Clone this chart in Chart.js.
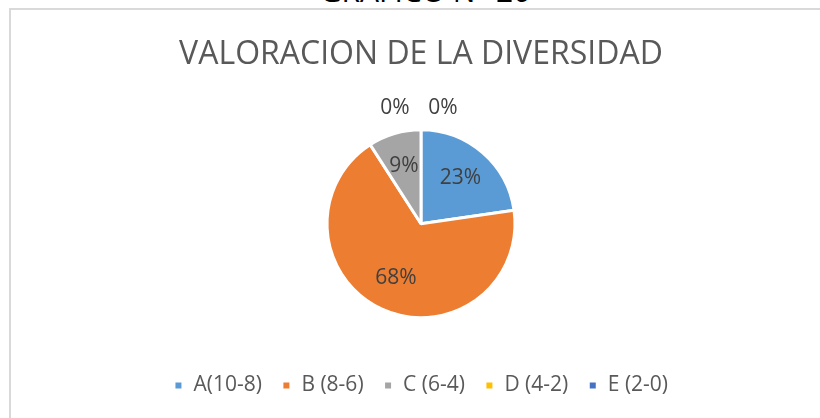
<!DOCTYPE html>
<html>
<head>
<meta charset="utf-8">
<script src="https://cdn.jsdelivr.net/npm/chart.js@4.4.0/dist/chart.umd.min.js"></script>
<style>
  html, body { margin: 0; padding: 0; background: #fff; }
  #wrap { position: relative; width: 820px; height: 418px; overflow: hidden; }
  #frame { position: absolute; left: 9px; top: 8px; width: 830px; height: 430px;
           border: 2px solid #d9d9d9; box-sizing: border-box; }
  #heading { position: absolute; left: 0; width: 850px; top: -30px; text-align: center;
             font: 30px "Open Sans", sans-serif; color: #000; }
  canvas { position: absolute; left: 0; top: 0; }
</style>
</head>
<body>
<div id="wrap">
  <div id="heading">GRAFICO N° 20</div>
  <div id="frame"></div>
  <canvas id="pie" width="820" height="418"></canvas>
</div>
<script>
// Chart data
const categories = ['A(10-8)', 'B (8-6)', 'C (6-4)', 'D (4-2)', 'E (2-0)'];
const counts = [5, 15, 2, 0, 0];
const sliceColors = ['#5B9BD5', '#ED7D31', '#A5A5A5', '#FFC000', '#4472C4'];

// Draw percentage labels on the slices
const percentLabels = {
    id: 'percentLabels',
    afterDatasetsDraw(chart) {
        const ctx = chart.ctx;
        const meta = chart.getDatasetMeta(0);
        const total = counts.reduce((a, b) => a + b, 0);
        let zeroIndex = 0;
        ctx.save();
        ctx.font = '21px "Open Sans", sans-serif';
        ctx.fillStyle = '#404040';
        ctx.textAlign = 'center';
        ctx.textBaseline = 'middle';
        meta.data.forEach((arc, i) => {
            const p = arc.getProps(['x', 'y', 'startAngle', 'endAngle', 'outerRadius'], true);
            const mid = (p.startAngle + p.endAngle) / 2;
            const pct = Math.round(counts[i] / total * 100) + '%';
            let x, y;
            if (counts[i] === 0) {
                // empty slices go outside, spread left and right
                const r = p.outerRadius + 22;
                x = p.x + Math.cos(mid) * r + (zeroIndex === 0 ? -26 : 22);
                y = p.y + Math.sin(mid) * r;
                zeroIndex++;
            } else {
                const r = p.outerRadius * 0.64;
                x = p.x + Math.cos(mid) * r;
                y = p.y + Math.sin(mid) * r;
            }
            ctx.fillText(pct, x, y);
        });
        ctx.restore();
    }
};

new Chart(document.getElementById('pie'), {
    type: 'pie',
    data: {
        labels: categories,
        datasets: [{
            data: counts,
            backgroundColor: sliceColors,
            borderColor: '#ffffff',
            borderWidth: 3,
            radius: 94
        }]
    },
    options: {
        responsive: false,
        animation: false,
        layout: { padding: { left: 22, right: 0, top: 0, bottom: 12 } },
        plugins: {
            tooltip: { enabled: false },
            title: {
                display: true,
                text: 'VALORACION DE LA DIVERSIDAD',
                color: '#595959',
                font: { family: '"Open Sans", sans-serif', size: 32, weight: 'normal', lineHeight: 1.2 },
                padding: { top: 36, bottom: 18 }
            },
            legend: {
                position: 'bottom',
                labels: {
                    color: '#595959',
                    font: { family: '"Open Sans", sans-serif', size: 21 },
                    boxWidth: 9,
                    boxHeight: 9,
                    padding: 20
                }
            }
        }
    },
    plugins: [percentLabels]
});
</script>
</body>
</html>
